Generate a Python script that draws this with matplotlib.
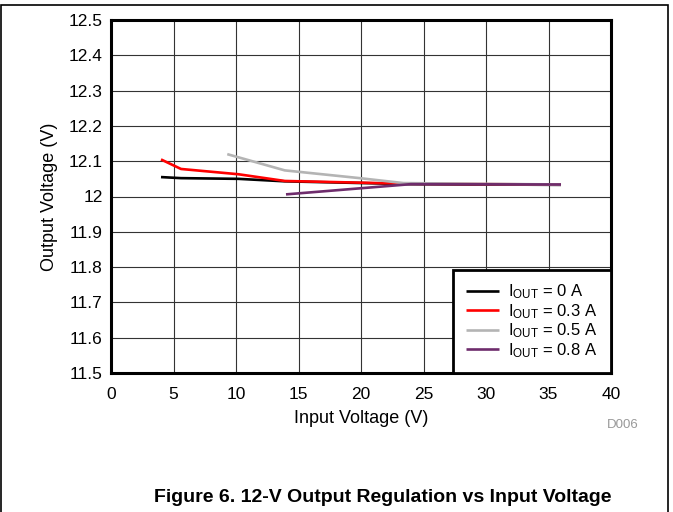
import matplotlib
matplotlib.use("Agg")
import matplotlib.pyplot as plt
from matplotlib.patches import Rectangle

plt.rcParams['font.family'] = ['Liberation Sans', 'DejaVu Sans']
plt.rcParams['mathtext.default'] = 'regular'

# Input voltage (V) / output voltage (V) for each load current
vin_0 = [4.0, 5.6, 10.2, 13.9, 24.0, 36.0]
vout_0 = [12.055, 12.052, 12.050, 12.043, 12.035, 12.033]
vin_03 = [4.0, 5.6, 10.2, 13.9, 24.0, 36.0]
vout_03 = [12.105, 12.078, 12.063, 12.044, 12.036, 12.034]
vin_05 = [9.3, 13.9, 19.9, 23.4, 36.0]
vout_05 = [12.120, 12.074, 12.052, 12.038, 12.034]
vin_08 = [14.0, 24.0, 36.0]
vout_08 = [12.006, 12.035, 12.034]

labels = ['I$_{OUT}$ = 0 A', 'I$_{OUT}$ = 0.3 A', 'I$_{OUT}$ = 0.5 A', 'I$_{OUT}$ = 0.8 A']
colors = ['#000000', '#ff0000', '#b4b4b4', '#6e2c6c']
xticks = [0, 5, 10, 15, 20, 25, 30, 35, 40]
yticks = [11.5, 11.6, 11.7, 11.8, 11.9, 12.0, 12.1, 12.2, 12.3, 12.4, 12.5]

fig = plt.figure(figsize=(6.73, 5.12), dpi=100)
ax = fig.add_axes([111/673, 1-373/512, 500/673, 353/512])

series = [(vin_0, vout_0), (vin_03, vout_03), (vin_05, vout_05), (vin_08, vout_08)]
for (xs, ys), lab, col in zip(series, labels, colors):
    ax.plot(xs, ys, color=col, lw=1.9, label=lab, solid_capstyle='butt')

ax.set_xlim(0, 40)
ax.set_ylim(11.5, 12.5)
ax.set_xticks(xticks)
ax.set_yticks(yticks)
ax.set_yticklabels(['%g' % v for v in yticks])
ax.tick_params(length=0, labelsize=12.5)
ax.tick_params(axis='x', pad=10)
ax.tick_params(axis='y', pad=6)
ax.grid(True, color='#333333', lw=0.8)
ax.set_axisbelow(True)
for s in ax.spines.values():
    s.set_linewidth(2.2)
ax.set_xlabel('Input Voltage (V)', fontsize=13, labelpad=6)
ax.set_ylabel('Output Voltage (V)', fontsize=13, labelpad=8)

leg = ax.legend(loc='lower right', bbox_to_anchor=(1, 0), borderaxespad=0,
                fancybox=False, frameon=True, fontsize=12, handlelength=2.0,
                labelspacing=0.05, borderpad=0.78, handletextpad=0.55)
leg.get_frame().set_edgecolor('black')
leg.get_frame().set_linewidth(2.0)
leg.get_frame().set_alpha(1)

fig.text(623/673, 1-425/512, 'D006', color='#999999', fontsize=9.5, ha='center', va='center')
fig.text(383/673, 1-497/512, 'Figure 6. 12-V Output Regulation vs Input Voltage',
         fontsize=14, fontweight='bold', ha='center', va='center')

fig.patches.append(Rectangle((0.5/673, -0.1), 667/673, 1.1-4.5/512, transform=fig.transFigure,
                             fill=False, edgecolor='black', lw=1.2))

fig.savefig('out.png', dpi=100)
